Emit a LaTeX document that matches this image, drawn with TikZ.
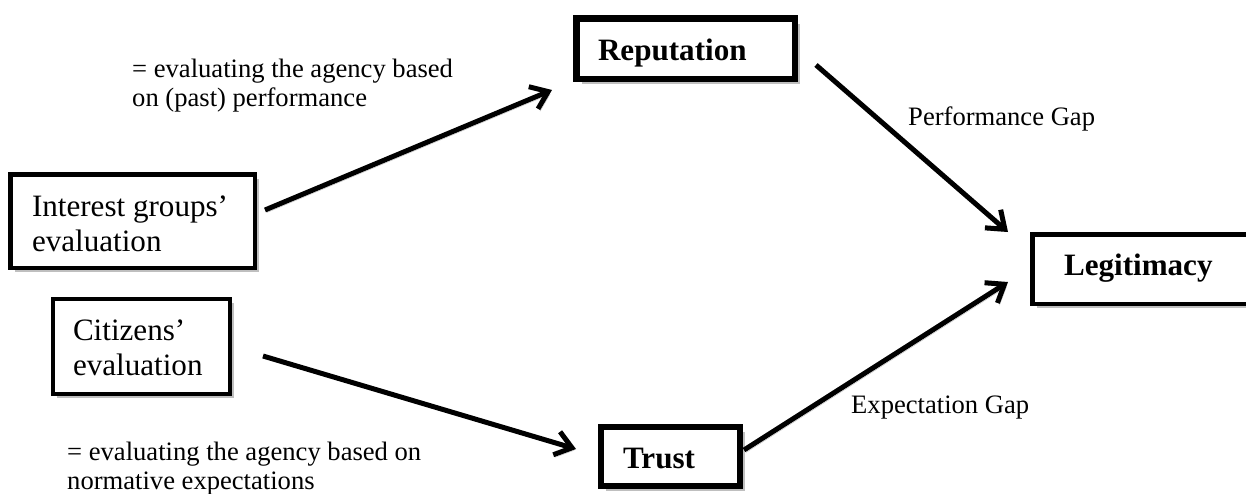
\documentclass[tikz,border=0pt]{standalone}
\usepackage{fontspec}
\setmainfont{Liberation Serif}
\usetikzlibrary{arrows.meta,shadows}
% two lines stacked, baseline on the first line
\newcommand\stacktwo[2]{\vtop{\hbox{#1}\hbox{#2}}}
\begin{document}
\begin{tikzpicture}[x=1pt,y=-1pt,
  note/.style={anchor=base west, inner sep=0pt, font=\fontsize{26.6}{29.5}\selectfont},
  panel/.style={draw, fill=white, anchor=north west, inner ysep=0pt, outer sep=0pt,
    font=\fontsize{31.1}{35.5}\selectfont,
    drop shadow={shadow xshift=#1, shadow yshift=-#1, fill=black!25, opacity=1}},
  conn/.style={line width=5pt, -{Straight Barb[length=16pt,width=24pt]},
    preaction={draw=black!25, transform canvas={xshift=2pt,yshift=-2.5pt}}}
]
\clip (0,0) rectangle (1246,493);

% boxes
\node[panel=4.25pt, line width=4.5pt, inner xsep=21.75pt, text height=41.75pt, text depth=51.75pt]
  (int) at (10.25,174.25) {\makebox[201pt][l]{\stacktwo{Interest groups'}{evaluation}}};
\node[panel=4pt, line width=4pt, inner xsep=20pt, text height=41pt, text depth=54pt]
  (cit) at (53,299) {\makebox[137pt][l]{\stacktwo{Citizens'}{evaluation}}};
\node[panel=5.25pt, line width=6.5pt, inner xsep=21.75pt, text height=42.25pt, text depth=18.25pt]
  (rep) at (576.25,18.25) {\makebox[175pt][l]{\bfseries Reputation}};
\node[panel=5pt, line width=6pt, inner xsep=22pt, text height=41pt, text depth=18pt]
  (tru) at (601,427) {\makebox[95pt][l]{\bfseries Trust}};
\node[panel=4.25pt, line width=4.5pt, inner xsep=31.75pt, text height=40.75pt, text depth=28.75pt]
  (leg) at (1032.25,234.25) {\makebox[164pt][l]{\bfseries Legitimacy}};

% annotations
\node[note] (n1) at (132,77) {\stacktwo{= evaluating the agency based}{on (past) performance}};
\node[note] (n2) at (67,460) {\stacktwo{= evaluating the agency based on}{normative expectations}};
\node[note] (pg) at (908,125) {Performance Gap};
\node[note] (eg) at (851,413) {Expectation Gap};

% connectors
\draw[conn] ([shift={(10.25,-11)}]int.east) -- ([shift={(-24.25,11.25)}]rep.south west);
\draw[conn] ([shift={(21.25,16.5)}]rep.east) -- ([shift={(-24.25,-2.25)}]leg.north west);
\draw[conn] ([shift={(33,9.5)}]cit.east) -- ([shift={(-25,-7.5)}]tru.west);
\draw[conn] ([shift={(4,-6.5)}]tru.east) -- ([shift={(-24.25,-21.75)}]leg.south west);
\end{tikzpicture}
\end{document}
